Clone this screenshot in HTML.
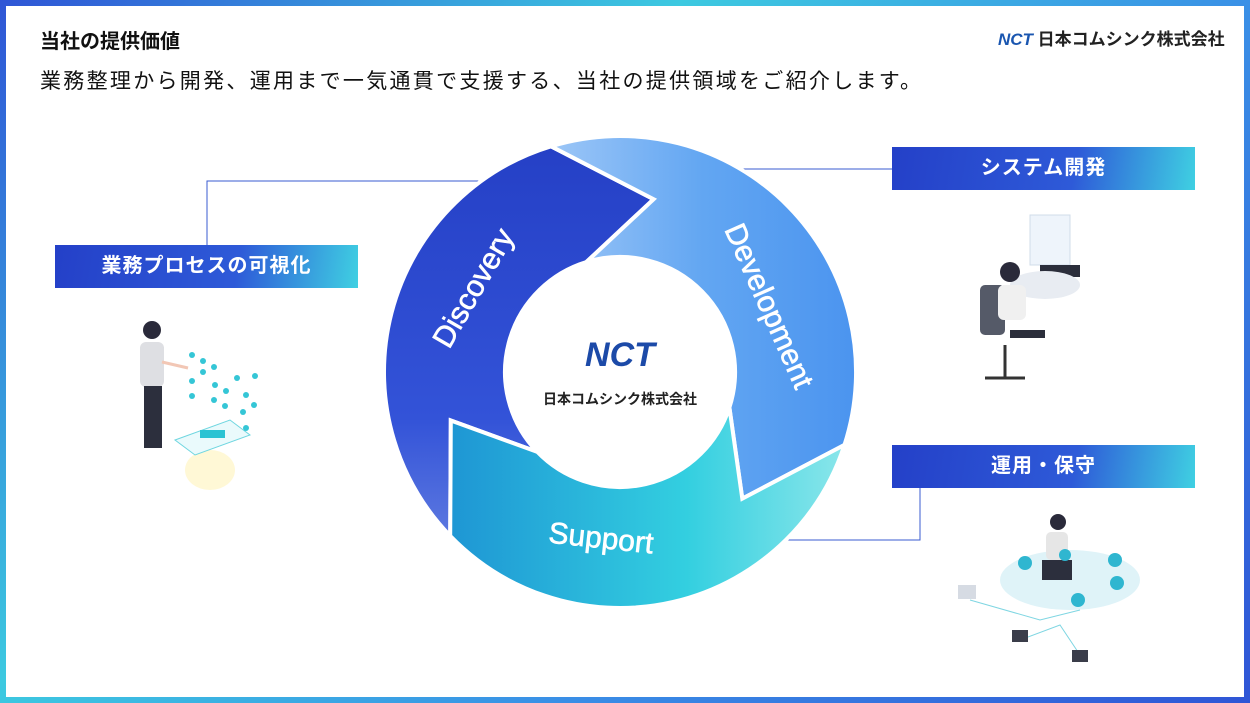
<!DOCTYPE html>
<html><head><meta charset="utf-8"><style>
html,body{margin:0;padding:0}
body{width:1250px;height:703px;position:relative;overflow:hidden;background:linear-gradient(135deg,#2f55d6 0%,#3cc9e0 35%,#3a8ee6 65%,#2f55d6 100%);font-family:"Liberation Sans","Noto Sans CJK JP",sans-serif}
.inner{position:absolute;left:6px;top:6px;width:1238px;height:691px;background:#fff}
.t{position:absolute;color:#111}
.lab{position:absolute;height:43px;color:#fff;font-weight:bold;font-size:20px;line-height:43px;text-align:center;background:linear-gradient(100deg,#2440c8 0%,#2e5ad8 60%,#3fd0e2 100%);letter-spacing:1px}
</style></head><body>
<div class="inner"></div>
<div class="t" style="left:40px;top:25px;font-size:20px;font-weight:bold">当社の提供価値</div>
<div class="t" style="left:40px;top:65px;font-size:21px;letter-spacing:2.3px;white-space:nowrap">業務整理から開発、運用まで一気通貫で支援する、当社の提供領域をご紹介します。</div>
<div class="t" style="left:998px;top:25px;font-size:17px;font-weight:bold;color:#222;white-space:nowrap"><span style="color:#1a56b0;font-style:italic;font-weight:900">NCT</span> 日本コムシンク株式会社</div>

<svg width="1250" height="703" style="position:absolute;left:0;top:0">
<defs>
<linearGradient id="gd" x1="0" y1="0" x2="0" y2="1"><stop offset="0" stop-color="#2540c6"/><stop offset="0.7" stop-color="#3353d8"/><stop offset="1" stop-color="#5c78e0"/></linearGradient>
<linearGradient id="gv" x1="0" y1="0" x2="1" y2="0"><stop offset="0" stop-color="#9cc6f7"/><stop offset="0.5" stop-color="#62a6f2"/><stop offset="1" stop-color="#4b94ef"/></linearGradient>
<linearGradient id="gs" x1="0" y1="0" x2="1" y2="0"><stop offset="0" stop-color="#1e96d4"/><stop offset="0.6" stop-color="#33cfe0"/><stop offset="1" stop-color="#8ae6ea"/></linearGradient>
</defs>
<g fill="none" stroke="#3a5bd0" stroke-width="1">
<path d="M207 245 V181 H482"/>
<path d="M740 169 H892"/>
<path d="M780 540 H920 V488"/>
</g>
<g stroke="#fff" stroke-width="4" stroke-linejoin="miter">
<path fill="url(#gd)" d="M450.2 535.9 A236 236 0 0 1 551 146.3 L653.6 199.2 L586.4 262 A115 115 0 0 0 537.3 451.9 L450.8 420.5 Z"/>
<path fill="url(#gv)" d="M551 146.3 A236 236 0 0 1 844.5 444.9 L742.3 498.6 L729.4 407.5 A115 115 0 0 0 586.4 262 L653.6 199.2 Z"/>
<path fill="url(#gs)" d="M844.5 444.9 A236 236 0 0 1 450.2 535.9 L450.8 420.5 L537.3 451.9 A115 115 0 0 0 729.4 407.5 L742.3 498.6 Z"/>
</g>
<g fill="#fff" stroke="#fff" stroke-width="0.6" font-family="Liberation Sans,sans-serif" font-size="30" text-anchor="middle">
<text transform="translate(482,293) rotate(-60)">Discovery</text>
<text transform="translate(760,310) rotate(66)">Development</text>
<text transform="translate(600,548) rotate(6)">Support</text>
</g>
<text x="620" y="366" text-anchor="middle" font-family="Liberation Sans,sans-serif" font-weight="900" font-style="italic" font-size="34" fill="#1c4aa8">NCT</text>
<text x="620" y="404" text-anchor="middle" font-family="Liberation Sans,Noto Sans CJK JP,sans-serif" font-weight="bold" font-size="14" fill="#222">日本コムシンク株式会社</text>

<ellipse cx="210" cy="470" rx="25" ry="20" fill="#fff8d6"/>
<polygon points="175,440 230,420 250,435 195,455" fill="#eafafc" stroke="#6fd6e0"/>
<rect x="200" y="430" width="25" height="8" fill="#2cc3d3"/>
<circle cx="152" cy="330" r="9" fill="#2a2a3a"/>
<rect x="140" y="342" width="24" height="45" rx="6" fill="#dedfe3"/>
<rect x="144" y="386" width="18" height="62" fill="#2c2f3d"/>
<line x1="162" y1="362" x2="188" y2="368" stroke="#f2c7b5" stroke-width="3"/>
<g fill="#35c6d6">
<circle cx="192" cy="355" r="3"/><circle cx="203" cy="361" r="3"/><circle cx="214" cy="367" r="3"/><circle cx="237" cy="378" r="3"/><circle cx="255" cy="376" r="3"/>
<circle cx="192" cy="381" r="3"/><circle cx="203" cy="372" r="3"/><circle cx="215" cy="385" r="3"/><circle cx="226" cy="391" r="3"/><circle cx="246" cy="395" r="3"/>
<circle cx="192" cy="396" r="3"/><circle cx="214" cy="400" r="3"/><circle cx="225" cy="406" r="3"/><circle cx="243" cy="412" r="3"/><circle cx="254" cy="405" r="3"/><circle cx="246" cy="428" r="3"/>
</g>
<rect x="1030" y="215" width="40" height="50" fill="#eef4fb" stroke="#d0dcea"/>
<rect x="1040" y="265" width="40" height="12" fill="#2b2e3b"/>
<ellipse cx="1045" cy="285" rx="35" ry="14" fill="#e8ecf2"/>
<circle cx="1010" cy="272" r="10" fill="#2a2a3a"/>
<rect x="980" y="285" width="25" height="50" rx="5" fill="#555a68"/>
<rect x="998" y="285" width="28" height="35" rx="6" fill="#f0f0f0"/>
<rect x="1010" y="330" width="35" height="8" fill="#2b2e3b"/>
<line x1="1005" y1="345" x2="1005" y2="378" stroke="#333" stroke-width="3"/>
<line x1="985" y1="378" x2="1025" y2="378" stroke="#333" stroke-width="3"/>
<ellipse cx="1070" cy="580" rx="70" ry="30" fill="#dff3f8"/>
<circle cx="1058" cy="522" r="8" fill="#2a2a3a"/>
<rect x="1046" y="532" width="22" height="28" rx="5" fill="#e6e6e6"/>
<rect x="1042" y="560" width="30" height="20" fill="#2c2f3d"/>
<g fill="#2fb6d0"><circle cx="1025" cy="563" r="7"/><circle cx="1115" cy="560" r="7"/><circle cx="1117" cy="583" r="7"/><circle cx="1078" cy="600" r="7"/><circle cx="1065" cy="555" r="6"/></g>
<g stroke="#7fd6e2" fill="none"><path d="M970 600 L1040 620 L1080 610"/><path d="M1020 640 L1060 625 L1080 655"/></g>
<rect x="958" y="585" width="18" height="14" fill="#d6dbe3"/>
<rect x="1012" y="630" width="16" height="12" fill="#3a3d4a"/>
<rect x="1072" y="650" width="16" height="12" fill="#3a3d4a"/>
</svg>

<div class="lab" style="left:55px;top:245px;width:303px">業務プロセスの可視化</div>
<div class="lab" style="left:892px;top:147px;width:303px">システム開発</div>
<div class="lab" style="left:892px;top:445px;width:303px">運用・保守</div>
</body></html>
